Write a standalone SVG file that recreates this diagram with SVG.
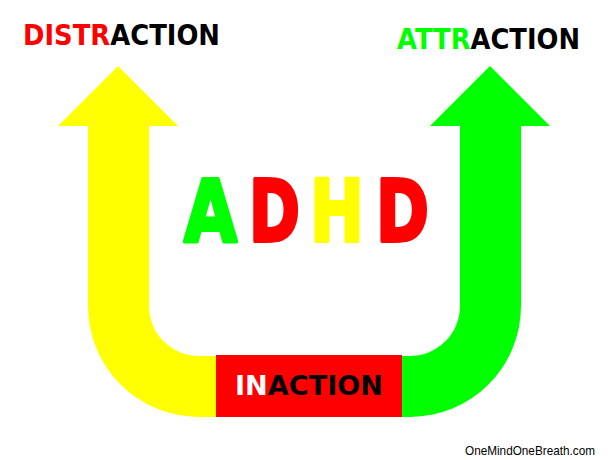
<svg xmlns="http://www.w3.org/2000/svg" width="612" height="460" viewBox="0 0 612 460">
<style>
.t{font-family:"DejaVu Sans","Liberation Sans",sans-serif;font-weight:bold;}
.big{font-size:68px;stroke-width:3;stroke-linejoin:round}
.red{fill:#FF0000}.grn{fill:#00FF00}.yel{fill:#FFFF00}.blk{fill:#000}.wht{fill:#fff}
.big.red{stroke:#FF0000}.big.grn{stroke:#00FF00}.big.yel{stroke:#FFFF00}
</style>
<rect width="612" height="460" fill="#fff"/>
<g id="yellow-arrow">
<path class="yel" d="M118,66 L178,126 L149,126 L149,306 A50,50 0 0 0 199,356 L217,356 L217,417 L199,417 A111,111 0 0 1 88,306 L88,126 L58,126 Z"/>
</g>
<g id="green-arrow">
<path class="grn" d="M490,66 L550,126 L521,126 L521,306 A111,111 0 0 1 410,417 L400,417 L400,356 L410,356 A50,50 0 0 0 460,306 L460,126 L430,126 Z"/>
</g>
<g id="inaction">
<rect class="red" x="216" y="355" width="186" height="62"/>
<text class="t" x="235" y="395" font-size="27" textLength="148" lengthAdjust="spacingAndGlyphs"><tspan class="wht">IN</tspan><tspan class="blk">ACTION</tspan></text>
</g>
<g id="distraction">
<text class="t" x="23" y="45" font-size="28" textLength="197" lengthAdjust="spacingAndGlyphs"><tspan class="red">DISTR</tspan><tspan class="blk">ACTION</tspan></text>
</g>
<g id="attraction">
<text class="t" x="397" y="49" font-size="28" textLength="183" lengthAdjust="spacingAndGlyphs"><tspan class="grn">ATTR</tspan><tspan class="blk">ACTION</tspan></text>
</g>
<g id="adhd" transform="translate(0,241) scale(1,1.25)">
<text class="t big grn" x="184" y="0" textLength="53" lengthAdjust="spacingAndGlyphs">A</text>
<text class="t big red" x="249" y="0" textLength="51" lengthAdjust="spacingAndGlyphs">D</text>
<text class="t big yel" x="310" y="0" textLength="54" lengthAdjust="spacingAndGlyphs">H</text>
<text class="t big red" x="376" y="0" textLength="53" lengthAdjust="spacingAndGlyphs">D</text>
</g>
<g id="credit">
<text x="465" y="455" font-family="Liberation Sans, Arial, sans-serif" font-size="13" fill="#000" textLength="130" lengthAdjust="spacingAndGlyphs">OneMindOneBreath.com</text>
</g>
</svg>
